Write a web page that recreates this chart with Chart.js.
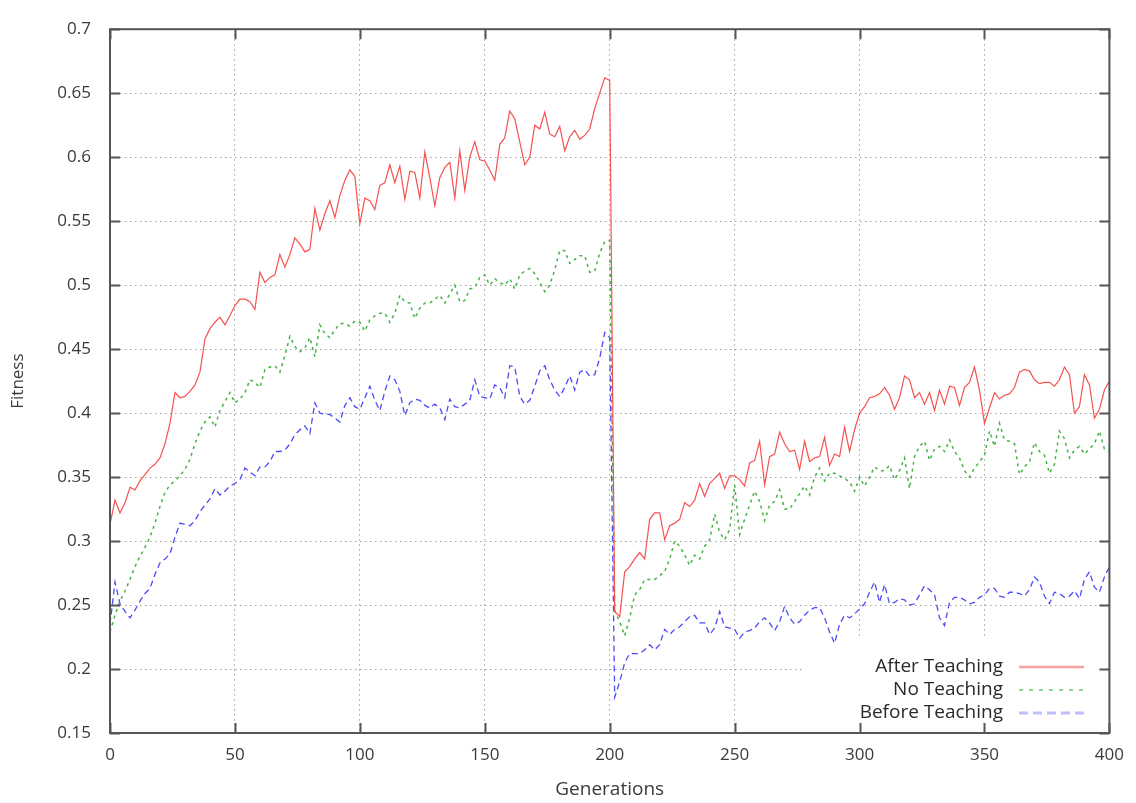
<!DOCTYPE html>
<html>
<head>
<meta charset="utf-8">
<title>Fitness over generations</title>
<script src="https://cdn.jsdelivr.net/npm/chart.js@4.4.1/dist/chart.umd.min.js"></script>
<style>
  html, body { margin: 0; padding: 0; background: #fff; }
  #wrap { width: 1136px; height: 803px; position: relative; }
</style>
</head>
<body>
<div id="wrap"><canvas id="fitnessChart"></canvas></div>
<script>
// sample positions (every 2nd generation)
const generations = [
  0, 2, 4, 6, 8, 10, 12, 14, 16, 18, 20, 22, 24, 26, 28, 30, 32, 34, 36, 38,
  40, 42, 44, 46, 48, 50, 52, 54, 56, 58, 60, 62, 64, 66, 68, 70, 72, 74, 76, 78,
  80, 82, 84, 86, 88, 90, 92, 94, 96, 98, 100, 102, 104, 106, 108, 110, 112, 114, 116, 118,
  120, 122, 124, 126, 128, 130, 132, 134, 136, 138, 140, 142, 144, 146, 148, 150, 152, 154, 156, 158,
  160, 162, 164, 166, 168, 170, 172, 174, 176, 178, 180, 182, 184, 186, 188, 190, 192, 194, 196, 198,
  200, 202, 204, 206, 208, 210, 212, 214, 216, 218, 220, 222, 224, 226, 228, 230, 232, 234, 236, 238,
  240, 242, 244, 246, 248, 250, 252, 254, 256, 258, 260, 262, 264, 266, 268, 270, 272, 274, 276, 278,
  280, 282, 284, 286, 288, 290, 292, 294, 296, 298, 300, 302, 304, 306, 308, 310, 312, 314, 316, 318,
  320, 322, 324, 326, 328, 330, 332, 334, 336, 338, 340, 342, 344, 346, 348, 350, 352, 354, 356, 358,
  360, 362, 364, 366, 368, 370, 372, 374, 376, 378, 380, 382, 384, 386, 388, 390, 392, 394, 396, 398,
  400
];

const afterTeaching = [
  0.313, 0.332, 0.322, 0.330, 0.342, 0.340, 0.347, 0.352, 0.357, 0.360, 0.365, 0.376, 0.392, 0.416, 0.412, 0.413, 0.417, 0.422, 0.432, 0.458,
  0.466, 0.471, 0.475, 0.469, 0.476, 0.484, 0.489, 0.489, 0.487, 0.481, 0.510, 0.502, 0.506, 0.508, 0.524, 0.514, 0.524, 0.537, 0.532, 0.526,
  0.528, 0.560, 0.543, 0.556, 0.566, 0.553, 0.570, 0.582, 0.590, 0.585, 0.548, 0.568, 0.566, 0.559, 0.578, 0.580, 0.594, 0.580, 0.593, 0.567,
  0.589, 0.588, 0.568, 0.604, 0.584, 0.562, 0.584, 0.592, 0.596, 0.568, 0.605, 0.574, 0.600, 0.612, 0.598, 0.597, 0.590, 0.582, 0.610, 0.615,
  0.636, 0.630, 0.612, 0.594, 0.600, 0.625, 0.622, 0.635, 0.618, 0.616, 0.624, 0.605, 0.616, 0.621, 0.614, 0.617, 0.622, 0.638, 0.650, 0.662,
  0.660, 0.245, 0.241, 0.276, 0.280, 0.286, 0.291, 0.286, 0.317, 0.322, 0.322, 0.301, 0.312, 0.314, 0.317, 0.330, 0.327, 0.332, 0.345, 0.335,
  0.345, 0.349, 0.353, 0.341, 0.351, 0.351, 0.348, 0.343, 0.361, 0.363, 0.378, 0.344, 0.366, 0.368, 0.385, 0.376, 0.370, 0.371, 0.356, 0.378,
  0.362, 0.365, 0.366, 0.381, 0.359, 0.368, 0.366, 0.389, 0.370, 0.387, 0.400, 0.405, 0.412, 0.413, 0.415, 0.420, 0.414, 0.403, 0.412, 0.429,
  0.426, 0.412, 0.416, 0.407, 0.416, 0.402, 0.418, 0.407, 0.421, 0.420, 0.406, 0.420, 0.424, 0.436, 0.418, 0.392, 0.404, 0.416, 0.411, 0.414,
  0.415, 0.420, 0.432, 0.434, 0.433, 0.426, 0.423, 0.424, 0.424, 0.421, 0.426, 0.436, 0.430, 0.400, 0.405, 0.430, 0.422, 0.396, 0.403, 0.418,
  0.425
];

const noTeaching = [
  0.229, 0.242, 0.253, 0.261, 0.270, 0.280, 0.288, 0.295, 0.303, 0.314, 0.327, 0.338, 0.344, 0.347, 0.351, 0.356, 0.364, 0.376, 0.386, 0.393,
  0.397, 0.389, 0.402, 0.409, 0.416, 0.408, 0.411, 0.416, 0.426, 0.424, 0.420, 0.434, 0.436, 0.437, 0.432, 0.445, 0.460, 0.452, 0.448, 0.451,
  0.459, 0.444, 0.469, 0.462, 0.459, 0.465, 0.470, 0.470, 0.468, 0.472, 0.471, 0.464, 0.473, 0.476, 0.478, 0.478, 0.471, 0.478, 0.492, 0.487,
  0.486, 0.474, 0.482, 0.486, 0.486, 0.489, 0.492, 0.486, 0.493, 0.500, 0.487, 0.488, 0.497, 0.498, 0.506, 0.508, 0.500, 0.505, 0.502, 0.500,
  0.505, 0.497, 0.508, 0.511, 0.513, 0.509, 0.502, 0.495, 0.500, 0.512, 0.527, 0.527, 0.517, 0.520, 0.523, 0.523, 0.510, 0.511, 0.525, 0.534,
  0.535, 0.245, 0.237, 0.226, 0.240, 0.258, 0.262, 0.270, 0.270, 0.270, 0.273, 0.276, 0.286, 0.300, 0.296, 0.289, 0.281, 0.289, 0.286, 0.296,
  0.301, 0.321, 0.307, 0.301, 0.309, 0.344, 0.305, 0.317, 0.328, 0.339, 0.331, 0.316, 0.328, 0.331, 0.340, 0.325, 0.325, 0.331, 0.337, 0.343,
  0.336, 0.350, 0.357, 0.347, 0.353, 0.353, 0.351, 0.349, 0.346, 0.339, 0.350, 0.343, 0.350, 0.358, 0.355, 0.355, 0.359, 0.348, 0.355, 0.365,
  0.341, 0.366, 0.374, 0.378, 0.363, 0.372, 0.374, 0.370, 0.379, 0.370, 0.365, 0.355, 0.350, 0.357, 0.362, 0.367, 0.386, 0.374, 0.392, 0.379,
  0.378, 0.376, 0.352, 0.358, 0.362, 0.377, 0.370, 0.367, 0.353, 0.360, 0.386, 0.380, 0.365, 0.371, 0.374, 0.368, 0.372, 0.376, 0.386, 0.372,
  0.370
];

const beforeTeaching = [
  0.235, 0.268, 0.251, 0.245, 0.240, 0.246, 0.253, 0.259, 0.263, 0.274, 0.283, 0.286, 0.290, 0.303, 0.314, 0.313, 0.312, 0.316, 0.323, 0.328,
  0.333, 0.341, 0.336, 0.339, 0.343, 0.345, 0.348, 0.357, 0.354, 0.351, 0.358, 0.358, 0.362, 0.370, 0.370, 0.371, 0.376, 0.383, 0.387, 0.390,
  0.384, 0.408, 0.400, 0.399, 0.399, 0.396, 0.393, 0.406, 0.412, 0.405, 0.403, 0.412, 0.421, 0.410, 0.402, 0.417, 0.429, 0.426, 0.417, 0.398,
  0.408, 0.411, 0.410, 0.406, 0.404, 0.407, 0.404, 0.395, 0.411, 0.405, 0.404, 0.407, 0.410, 0.426, 0.413, 0.412, 0.411, 0.422, 0.420, 0.412,
  0.437, 0.436, 0.413, 0.407, 0.410, 0.421, 0.433, 0.437, 0.426, 0.418, 0.413, 0.420, 0.429, 0.418, 0.432, 0.434, 0.429, 0.430, 0.443, 0.463,
  0.459, 0.178, 0.190, 0.205, 0.212, 0.212, 0.212, 0.215, 0.219, 0.215, 0.219, 0.231, 0.227, 0.231, 0.233, 0.237, 0.241, 0.242, 0.236, 0.236,
  0.227, 0.232, 0.245, 0.233, 0.232, 0.231, 0.224, 0.229, 0.230, 0.232, 0.237, 0.240, 0.236, 0.230, 0.237, 0.249, 0.240, 0.235, 0.237, 0.242,
  0.246, 0.248, 0.248, 0.240, 0.229, 0.220, 0.235, 0.242, 0.240, 0.243, 0.247, 0.251, 0.260, 0.268, 0.252, 0.266, 0.251, 0.252, 0.255, 0.254,
  0.250, 0.251, 0.258, 0.265, 0.262, 0.258, 0.240, 0.234, 0.252, 0.256, 0.256, 0.254, 0.251, 0.252, 0.256, 0.258, 0.263, 0.263, 0.257, 0.256,
  0.260, 0.260, 0.259, 0.257, 0.262, 0.272, 0.268, 0.257, 0.251, 0.260, 0.259, 0.256, 0.257, 0.261, 0.255, 0.270, 0.276, 0.264, 0.260, 0.272,
  0.280
];

const seriesNames = ['After Teaching', 'No Teaching', 'Before Teaching'];
const yTicks = [0.15, 0.2, 0.25, 0.3, 0.35, 0.4, 0.45, 0.5, 0.55, 0.6, 0.65, 0.7];
const xTicks = [0, 50, 100, 150, 200, 250, 300, 350, 400];

const toPoints = (values) => values.map((y, i) => ({ x: generations[i], y }));

const FONT = "'Open Sans', 'DejaVu Sans', sans-serif";
const TEXT = '#3a3a3a';
const AXIS = '#555';
const GRID = '#a0a0a0';

// line look per series, plot line and key sample
const styles = [
  { color: 'rgb(248,80,80)', key: 'rgb(246,160,160)', width: 1.2, dash: [], keyWidth: 2.5, keyDash: [] },
  { color: 'rgb(70,178,70)', key: 'rgb(110,205,110)', width: 1.5, dash: [3, 4], keyWidth: 1.5, keyDash: [4, 6] },
  { color: 'rgb(75,75,248)', key: 'rgb(190,190,255)', width: 1.3, dash: [6, 4], keyWidth: 3, keyDash: [9, 5] },
];

// gnuplot-style frame: box around the plot, inward ticks on all four sides
const frameBox = {
  id: 'frameBox',
  afterDraw(chart) {
    const { ctx, chartArea: a, scales } = chart;
    ctx.save();
    ctx.strokeStyle = AXIS;
    ctx.lineWidth = 2;
    ctx.strokeRect(a.left, a.top, a.right - a.left, a.bottom - a.top);
    ctx.beginPath();
    yTicks.forEach((v) => {
      const y = Math.round(scales.y.getPixelForValue(v)) + 0.5;
      ctx.moveTo(a.left, y); ctx.lineTo(a.left + 10, y);
      ctx.moveTo(a.right, y); ctx.lineTo(a.right - 10, y);
    });
    xTicks.forEach((v) => {
      const x = Math.round(scales.x.getPixelForValue(v)) + 0.5;
      ctx.moveTo(x, a.bottom); ctx.lineTo(x, a.bottom - 10);
      ctx.moveTo(x, a.top); ctx.lineTo(x, a.top + 10);
    });
    ctx.stroke();
    ctx.restore();
  },
};

// key in the lower right corner, text to the left of the line sample
const keyBox = {
  id: 'keyBox',
  beforeDatasetsDraw(chart) {
    const { ctx, chartArea: a } = chart;
    const boxLeft = a.left + 695;
    const boxTop = a.bottom - 95;
    ctx.save();
    ctx.fillStyle = '#fff';
    ctx.fillRect(boxLeft, boxTop, a.right - boxLeft, a.bottom - boxTop);
    ctx.font = '19px ' + FONT;
    ctx.textAlign = 'right';
    ctx.textBaseline = 'middle';
    seriesNames.forEach((name, i) => {
      const y = a.bottom - 66 + i * 23;
      ctx.fillStyle = '#2a2a2a';
      ctx.fillText(name, a.left + 893, y);
      const s = styles[i];
      ctx.strokeStyle = s.key;
      ctx.lineWidth = s.keyWidth;
      ctx.setLineDash(s.keyDash);
      ctx.beginPath();
      ctx.moveTo(a.left + 909, y);
      ctx.lineTo(a.left + 974, y);
      ctx.stroke();
    });
    ctx.restore();
  },
};

const allSeries = [afterTeaching, noTeaching, beforeTeaching];

const ctx = document.getElementById('fitnessChart').getContext('2d');
new Chart(ctx, {
  type: 'line',
  data: {
    datasets: allSeries.map((values, i) => ({
      label: seriesNames[i],
      data: toPoints(values),
      borderColor: styles[i].color,
      borderWidth: styles[i].width,
      borderDash: styles[i].dash,
      pointRadius: 0,
      tension: 0,
      fill: false,
    })),
  },
  options: {
    responsive: true,
    maintainAspectRatio: false,
    animation: false,
    layout: { padding: { top: 21, right: 26, left: 0, bottom: 0 } },
    plugins: {
      legend: { display: false },
      tooltip: { enabled: false },
    },
    scales: {
      x: {
        type: 'linear',
        min: 0,
        max: 400,
        afterFit: (scale) => { scale.height = 70; },
        afterBuildTicks: (scale) => { scale.ticks = xTicks.map((v) => ({ value: v })); },
        grid: { color: GRID, lineWidth: 1, drawTicks: false },
        border: { display: false, dash: [1.5, 3.5] },
        ticks: {
          padding: 12,
          color: TEXT,
          font: { family: FONT, size: 17 },
          maxRotation: 0,
        },
        title: {
          display: true,
          text: 'Generations',
          color: TEXT,
          font: { family: FONT, size: 19 },
          padding: { top: 0, bottom: 2 },
        },
      },
      y: {
        min: 0.15,
        max: 0.7,
        afterFit: (scale) => { scale.width = 110; },
        afterBuildTicks: (scale) => { scale.ticks = yTicks.map((v) => ({ value: v })); },
        grid: { color: GRID, lineWidth: 1, drawTicks: false },
        border: { display: false, dash: [1.5, 3.5] },
        ticks: {
          padding: 19,
          color: TEXT,
          font: { family: FONT, size: 17 },
          callback: (v) => String(+v.toFixed(2)),
        },
        title: {
          display: true,
          text: 'Fitness',
          color: TEXT,
          font: { family: FONT, size: 17 },
          padding: { top: 8, bottom: 0 },
        },
      },
    },
  },
  plugins: [keyBox, frameBox],
});
</script>
</body>
</html>
